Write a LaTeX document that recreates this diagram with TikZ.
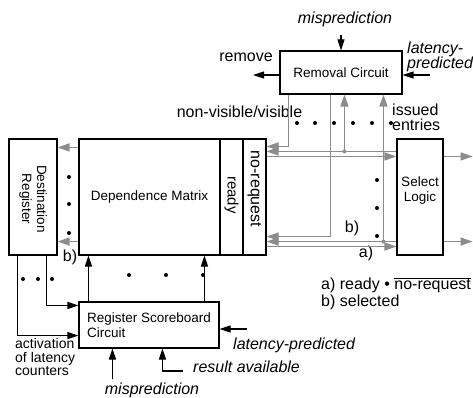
\documentclass[tikz,border=0pt]{standalone}
\usepackage{fontspec}
\setmainfont{Liberation Sans}
\usetikzlibrary{arrows.meta,calc}
\definecolor{lg}{RGB}{140,140,140}
\begin{document}
\begin{tikzpicture}[x=1pt,y=-1pt,
 box/.style={draw,line width=1.1pt,inner sep=0pt,font=\fontsize{13.5}{15}\selectfont},
 btxt/.style={inner sep=0pt,font=\fontsize{13.5}{15}\selectfont},
 lab/.style={inner sep=0pt,font=\fontsize{16}{15}\selectfont},
 ilab/.style={inner sep=0pt,font=\fontsize{16}{15}\selectfont\itshape},
 bl/.style={line width=1.1pt,-{Triangle[length=11pt,width=7pt]}},
 gl/.style={draw=lg,line width=1.5pt,-{Triangle[length=12pt,width=8pt]}},
 dot/.style={circle,fill,inner sep=0pt,minimum size=4pt},
 gdot/.style={circle,fill=lg,inner sep=0pt,minimum size=4pt}]
\useasboundingbox (0,0) rectangle (473,398);

% boxes
\node[box,minimum width=122pt,minimum height=43pt] (rem) at (341,72.5) {Removal Circuit};
\node[box,minimum width=48pt,minimum height=116pt] (dr) at (33,197) {};
\node[box,minimum width=141pt,minimum height=116pt] (dm) at (149.5,197) {Dependence Matrix};
\node[box,minimum width=23pt,minimum height=116pt] (rd) at (231.5,197) {};
\node[box,minimum width=23pt,minimum height=116pt] (nr) at (254.5,197) {};
\node[box,minimum width=46pt,minimum height=116pt] (sel) at (420,197) {};
\node[box,minimum width=140pt,minimum height=46pt,align=left] (sc) at (149,325) {Register Scoreboard\\Circuit};

% texts inside boxes
\node[btxt,align=center] (selt) at (420,191) {Select\\Logic};
\node[btxt,rotate=-90,align=center] (drt) at (33,199) {Destination\\Register};
\node[inner sep=0pt,font=\fontsize{15}{15}\selectfont,rotate=-90] (rdt) at (231.5,195) {ready};
\node[inner sep=0pt,font=\fontsize{16}{15}\selectfont,rotate=-90] (nrt) at (254.5,189) {no-request};

% labels
\node[ilab] (mp1) at (345,19) {misprediction};
\node[ilab,align=left,anchor=west] (lp1) at (407,57) {latency-\\predicted};
\node[lab] (rmv) at (246,57) {remove};
\node[lab] (nvv) at (239.5,112) {non-visible/visible};
\node[lab,align=left,anchor=west] (iss) at (392,117.5) {issued\\entries};
\node[lab] (bb1) at (352,228) {b)};
\node[lab] (aa1) at (366,253) {a)};
\node[lab] (bb2) at (70,257) {b)};
\node[lab,anchor=west] (lg1) at (321,285) {a) ready \textbullet\ $\overline{\hbox{no-request}}$};
\node[lab,anchor=west] (lg2) at (321,302) {b) selected};
\node[ilab,anchor=west] (lp2) at (233,345) {latency-predicted};
\node[ilab,anchor=west] (ra) at (193,367) {result available};
\node[ilab] (mp2) at (152,390) {misprediction};
\node[inner sep=0pt,font=\fontsize{14}{13.5}\selectfont,align=left,anchor=west] (act) at (15,357) {activation\\of latency\\counters};

% removal circuit black arrows
\draw[bl] ([yshift=-8pt]mp1.south -| rem.north) -- (rem.north);
\coordinate (lpin) at (430,75);
\draw[bl] (lpin) -- (lpin -| rem.east);
\coordinate (rmout) at (253,75);
\draw[bl] (rmout -| rem.west) -- (rmout);

% gray connectors, top row
\coordinate (r1) at ([xshift=9pt]rem.south west);
\draw[gl] (r1) |- ([yshift=-8pt]nr.north east);
\draw[gl] ([yshift=-13pt]sel.north west) -- ([yshift=-13pt]nr.north east);
\draw[gl] ([yshift=-18pt]nr.north east) -- ([yshift=-18pt]sel.north west);
\coordinate (j1) at ([xshift=65pt,yshift=-13pt]rem.south west |- nr.north);
\node[gdot] (jd1) at (j1) {};
\draw[gl] (jd1.center) -- (j1 |- rem.south);

% bottom row
\coordinate (r2) at ([xshift=51pt]rem.south west);
\draw[gl] (r2) |- ([yshift=19pt]nr.south east);
\draw[gl] ([yshift=14pt]sel.south west) -- ([yshift=14pt]nr.south east);
\draw[gl] ([yshift=9pt]nr.south east) -- ([yshift=9pt]sel.south west);
\coordinate (j2) at ([xshift=104pt,yshift=14pt]rem.south west |- nr.south);
\node[gdot] (jd2) at (j2) {};
\draw[gl] (jd2.center) -- (j2 |- rem.south);

% select outputs
\draw[gl] ([yshift=-18pt]sel.north east) -- +(29,0);
\draw[gl] ([yshift=14pt]sel.south east) -- +(29,0);

% DM to destination register
\draw[gl] ([yshift=-9pt]dm.north west) -- ([yshift=-9pt]dr.north east);
\draw[gl] ([yshift=14pt]dm.south west) -- ([yshift=14pt]dr.south east);

% scoreboard to DM
\coordinate (s1) at ([xshift=10pt]sc.north west);
\coordinate (s2) at ([xshift=126pt]sc.north west);
\draw[bl] (s1) -- (s1 |- dm.south);
\draw[bl] (s2) -- (s2 |- dm.south);

% destination register to scoreboard
\coordinate (d1) at ([xshift=38pt]dr.south west);
\coordinate (d2) at ([xshift=9pt]dr.south west);
\draw[bl] (d1) |- ([yshift=-4pt]sc.north west);
\draw[bl] (d2) |- ([yshift=13pt]sc.south west);

% scoreboard inputs
\coordinate (lpin2) at (247,329);
\draw[bl] (lpin2) -- (lpin2 -| sc.east);
\coordinate (ra1) at (183,371);
\coordinate (ra2) at ([xshift=84pt]sc.south west);
\draw[bl] (ra1) -- (ra1 -| ra2) -- (ra2);
\coordinate (mpb) at ([xshift=34pt]sc.south west);
\draw[bl] (mpb |- mp2.north) ++(0,-3) -- (mpb);

% dots
\foreach \x in {297,315,334,353,372,391} \node[dot] at (\x,123) {};
\foreach \y in {180,208,236} \node[dot] at (377,\y) {};
\foreach \y in {177,204,233} \node[dot] at (69,\y) {};
\foreach \x in {129,166,203} \node[dot] at (\x,275) {};
\foreach \x in {23,38,52} \node[dot] at (\x,279) {};
\end{tikzpicture}
\end{document}
